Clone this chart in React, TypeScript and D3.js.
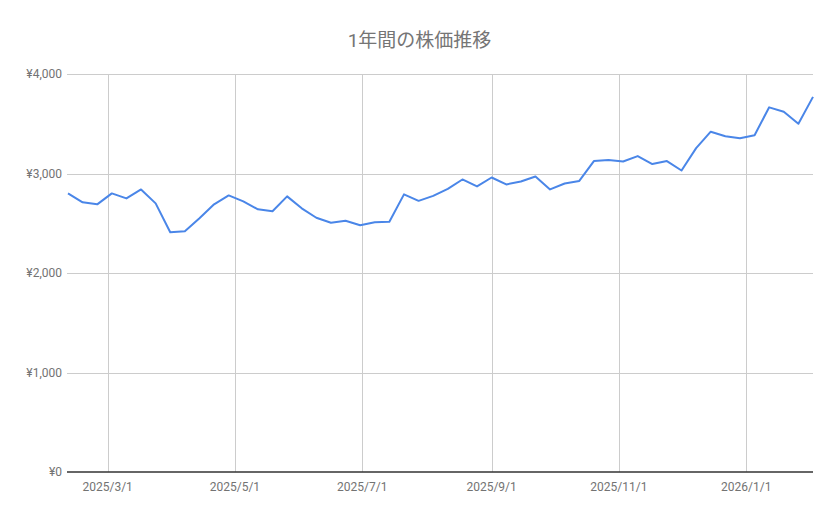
import { useEffect, useRef } from 'react';
import * as d3 from 'd3';

const W = 839;
const H = 519;

const title = '1年間の株価推移';

// weekly closes, starting Mon 2025-02-10
const startDate = new Date(2025, 1, 10);
const prices = [
  2800, 2710, 2690, 2800, 2750, 2840, 2700, 2410, 2420, 2550,
  2690, 2780, 2720, 2640, 2620, 2770, 2650, 2555, 2505, 2525,
  2480, 2510, 2515, 2790, 2725, 2775, 2845, 2940, 2870, 2960,
  2890, 2920, 2970, 2840, 2900, 2925, 3125, 3135, 3120, 3175,
  3095, 3125, 3030, 3255, 3420, 3375, 3355, 3385, 3665, 3620,
  3500, 3770,
];

const yTicks = [0, 1000, 2000, 3000, 4000];
const xTicks = [
  new Date(2025, 2, 1),
  new Date(2025, 4, 1),
  new Date(2025, 6, 1),
  new Date(2025, 8, 1),
  new Date(2025, 10, 1),
  new Date(2026, 0, 1),
];

const font = 'Roboto, "Noto Sans CJK JP", sans-serif';

export default function App() {
  const svgRef = useRef<SVGSVGElement | null>(null);

  useEffect(() => {
    if (!svgRef.current) return;
    const svg = d3.select(svgRef.current);
    svg.selectAll('*').remove();

    const data = prices.map((v, i) => ({ date: d3.timeWeek.offset(startDate, i), v }));

    const margin = { left: 68, right: 26, top: 74, bottom: 47 };
    const x = d3
      .scaleTime()
      .domain([data[0].date, data[data.length - 1].date])
      .range([margin.left, W - margin.right]);
    const y = d3
      .scaleLinear()
      .domain([0, 4000])
      .range([H - margin.bottom, margin.top]);

    svg.append('rect').attr('width', W).attr('height', H).attr('fill', '#fff');

    // title
    svg
      .append('text')
      .attr('x', W / 2)
      .attr('y', 47)
      .attr('text-anchor', 'middle')
      .attr('font-family', font)
      .attr('font-size', 19)
      .attr('fill', '#757575')
      .text(title);

    // horizontal grid
    const grid = svg.append('g');
    grid
      .selectAll('line.h')
      .data(yTicks.filter((t) => t > 0))
      .enter()
      .append('line')
      .attr('x1', margin.left - 1)
      .attr('x2', W - margin.right)
      .attr('y1', (d) => Math.round(y(d)) + 0.5)
      .attr('y2', (d) => Math.round(y(d)) + 0.5)
      .attr('stroke', '#cccccc')
      .attr('stroke-width', 1);

    // vertical grid
    grid
      .selectAll('line.v')
      .data(xTicks)
      .enter()
      .append('line')
      .attr('x1', (d) => Math.round(x(d)) + 0.5)
      .attr('x2', (d) => Math.round(x(d)) + 0.5)
      .attr('y1', y(4000))
      .attr('y2', y(0))
      .attr('stroke', '#cccccc')
      .attr('stroke-width', 1);

    // y labels
    svg
      .append('g')
      .selectAll('text')
      .data(yTicks)
      .enter()
      .append('text')
      .attr('x', margin.left - 6)
      .attr('y', (d) => y(d))
      .attr('dy', '0.35em')
      .attr('text-anchor', 'end')
      .attr('font-family', font)
      .attr('font-size', 12)
      .attr('fill', '#737373')
      .text((d) => '¥' + d3.format(',')(d));

    // x labels
    const fmt = (d: Date) => `${d.getFullYear()}/${d.getMonth() + 1}/${d.getDate()}`;
    svg
      .append('g')
      .selectAll('text')
      .data(xTicks)
      .enter()
      .append('text')
      .attr('x', (d) => x(d))
      .attr('y', y(0) + 19)
      .attr('text-anchor', 'middle')
      .attr('font-family', font)
      .attr('font-size', 12)
      .attr('fill', '#737373')
      .text(fmt);

    // line
    const line = d3
      .line<{ date: Date; v: number }>()
      .x((d) => x(d.date))
      .y((d) => y(d.v));
    svg
      .append('path')
      .datum(data)
      .attr('d', line)
      .attr('fill', 'none')
      .attr('stroke', '#4a86e8')
      .attr('stroke-width', 2)
      .attr('stroke-linejoin', 'round');

    // baseline
    svg
      .append('line')
      .attr('x1', margin.left - 1)
      .attr('x2', W - margin.right)
      .attr('y1', y(0))
      .attr('y2', y(0))
      .attr('stroke', '#333333')
      .attr('stroke-width', 1.5);
  }, []);

  return (
    <svg
      ref={svgRef}
      width={W}
      height={H}
      style={{ position: 'absolute', left: 0, top: 0, display: 'block' }}
    />
  );
}
